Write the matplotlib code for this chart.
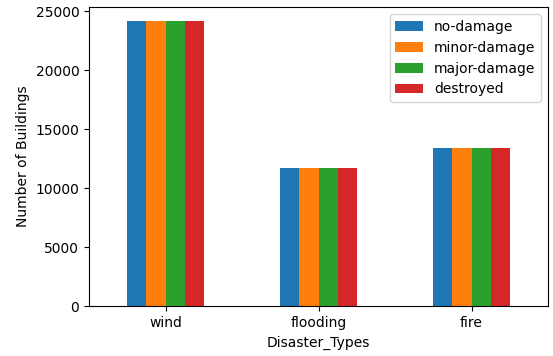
import matplotlib
matplotlib.use("Agg")
import matplotlib.pyplot as plt
import pandas as pd

categories = ["wind", "flooding", "fire"]
series_names = ["no-damage", "minor-damage", "major-damage", "destroyed"]
no_damage = [24150, 11750, 13450]
minor_damage = [24150, 11750, 13450]
major_damage = [24150, 11750, 13450]
destroyed = [24150, 11750, 13450]

df = pd.DataFrame({
    "no-damage": no_damage,
    "minor-damage": minor_damage,
    "major-damage": major_damage,
    "destroyed": destroyed,
}, index=categories)
df.index.name = "Disaster_Types"

fig = plt.figure(figsize=(5.53, 3.56), dpi=100)
ax = fig.add_axes([0.161, 0.140, 0.830, 0.840])
df.plot(kind="bar", ax=ax, rot=0)
ax.set_ylabel("Number of Buildings")
ax.set_xlabel("Disaster_Types")
ax.legend(loc="upper right")
fig.savefig("out.png", dpi=100)
